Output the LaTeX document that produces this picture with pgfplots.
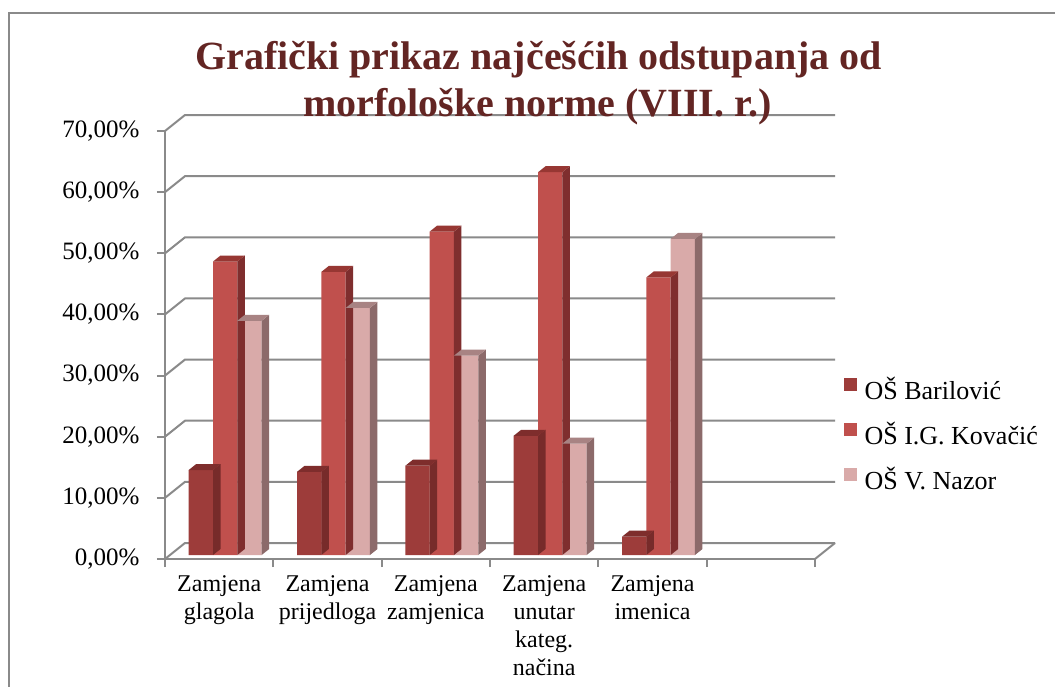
\documentclass[border=0pt]{standalone}
\usepackage{fontspec}
\setmainfont{Liberation Serif}
\usepackage{pgfplots}
\usepackage{pgfplotstable}
\pgfplotsset{compat=1.18}

\definecolor{gridgray}{HTML}{8A8A8A}
\definecolor{titlered}{HTML}{632523}
\definecolor{frontA}{HTML}{9D3C3A}
\definecolor{sideA}{HTML}{772B2A}
\definecolor{topA}{HTML}{7E2D2C}
\definecolor{frontB}{HTML}{C0504D}
\definecolor{sideB}{HTML}{7F2E2E}
\definecolor{topB}{HTML}{973733}
\definecolor{frontC}{HTML}{D9AAA9}
\definecolor{sideC}{HTML}{8C6A6A}
\definecolor{topC}{HTML}{A88383}

% side and top faces of a 3D column; #1 = bar shift (pt), #2 side colour, #3 top colour
\newcommand\boxfaces[3]{%
  \pgfmathsetmacro\hh{\yv*6.1143}%
  \pgfsetfillcolor{#2}%
  \pgfpathmoveto{\pgfpoint{#1pt+12.15pt}{4pt}}%
  \pgfpathlineto{\pgfpoint{#1pt+19.65pt}{10pt}}%
  \pgfpathlineto{\pgfpoint{#1pt+19.65pt}{10pt-\hh pt}}%
  \pgfpathlineto{\pgfpoint{#1pt+12.15pt}{4pt-\hh pt}}%
  \pgfpathclose\pgfusepathqfill
  \pgfsetfillcolor{#3}%
  \pgfpathmoveto{\pgfpoint{#1pt-12.15pt}{4pt}}%
  \pgfpathlineto{\pgfpoint{#1pt+12.15pt}{4pt}}%
  \pgfpathlineto{\pgfpoint{#1pt+19.65pt}{10pt}}%
  \pgfpathlineto{\pgfpoint{#1pt-4.65pt}{10pt}}%
  \pgfpathclose\pgfusepathqfill
}
\pgfdeclareplotmark{boxA}{\boxfaces{-18.3}{sideA}{topA}}
\pgfdeclareplotmark{boxB}{\boxfaces{6}{sideB}{topB}}
\pgfdeclareplotmark{boxC}{\boxfaces{30.3}{sideC}{topC}}

\pgfplotstableread{
x A B C
0 13.9 48.0 38.3
1 13.6 46.3 40.4
2 14.6 52.9 32.6
3 19.5 62.6 18.2
4 3.0 45.4 51.7
}\data

\pgfplotsset{sq legend/.style={legend image code/.code={\fill[##1,draw=none] (0pt,-6.5pt) rectangle (13pt,6.5pt); \path (19pt,0pt);}}}

\begin{document}
\begin{tikzpicture}
\useasboundingbox (0,0) rectangle (1055pt,686pt);
\fill[white] (0,0) rectangle (1055pt,686pt);
\draw[gridgray, line width=2pt] (9pt,-10pt) -- (9pt,673pt) -- (1070pt,673pt);
\begin{axis}[
  at={(165pt,127pt)}, anchor=south west,
  width=650pt, height=428pt, scale only axis,
  xmin=-0.5, xmax=5.5, ymin=0, ymax=70,
  clip=false,
  axis x line*=bottom, axis y line*=left,
  axis line style={draw=gridgray, line width=2pt, -},
  tick align=outside, major tick length=8pt,
  tick style={draw=gridgray, line width=2pt},
  ytick={0,10,...,70},
  yticklabels={{0,00\%},{10,00\%},{20,00\%},{30,00\%},{40,00\%},{50,00\%},{60,00\%},{70,00\%}},
  yticklabel style={font=\fontsize{25}{30}\selectfont, xshift=-14pt},
  xtick={-0.5,0.5,...,5.5}, xticklabels={},
  extra x ticks={0,1,2,3,4},
  extra x tick labels={{Zamjena\\glagola},{Zamjena\\prijedloga},{Zamjena\\zamjenica},{Zamjena\\unutar\\kateg.\\načina},{Zamjena\\imenica}},
  extra x tick style={major tick length=0pt, tick style={draw=none},
    xticklabel style={font=\fontsize{24}{28}\selectfont, align=center, anchor=north, yshift=-13pt}},
  legend style={at={(1.039,0.435)}, anchor=north west, draw=none, fill=none,
    font=\fontsize{26}{30}\selectfont, row sep=17pt},
  legend cell align=left,
]
\pgfplotsinvokeforeach{0,10,...,70}{
  \draw[gridgray, line width=2pt] (axis cs:-0.5,#1) -- ++(20pt,16pt) -- ([shift={(20pt,16pt)}]axis cs:5.5,#1);
}
\draw[gridgray, line width=2pt] (axis cs:5.5,0) -- ++(20pt,16pt);

\addplot[ybar, bar width=24.3pt, bar shift=-18.3pt, yshift=4pt, fill=frontA, draw=none, sq legend] table[x=x,y=A]{\data};
\addlegendentry{OŠ Barilović}
\addplot[only marks, mark=boxA, visualization depends on={rawy\as\yv}, forget plot] table[x=x,y=A]{\data};

\addplot[ybar, bar width=24.3pt, bar shift=6pt, yshift=4pt, fill=frontB, draw=none, sq legend] table[x=x,y=B]{\data};
\addlegendentry{OŠ I.G. Kovačić}
\addplot[only marks, mark=boxB, visualization depends on={rawy\as\yv}, forget plot] table[x=x,y=B]{\data};

\addplot[ybar, bar width=24.3pt, bar shift=30.3pt, yshift=4pt, fill=frontC, draw=none, sq legend] table[x=x,y=C]{\data};
\addlegendentry{OŠ V. Nazor}
\addplot[only marks, mark=boxC, visualization depends on={rawy\as\yv}, forget plot] table[x=x,y=C]{\data};
\end{axis}
\node[anchor=base, font=\fontsize{40}{46}\selectfont\bfseries, text=titlered, inner sep=0pt] at (538.5pt,616pt) {Grafički prikaz najčešćih odstupanja od};
\node[anchor=base, font=\fontsize{40}{46}\selectfont\bfseries, text=titlered, inner sep=0pt] at (537.5pt,569pt) {morfološke norme (VIII. r.)};
\end{tikzpicture}
\end{document}
